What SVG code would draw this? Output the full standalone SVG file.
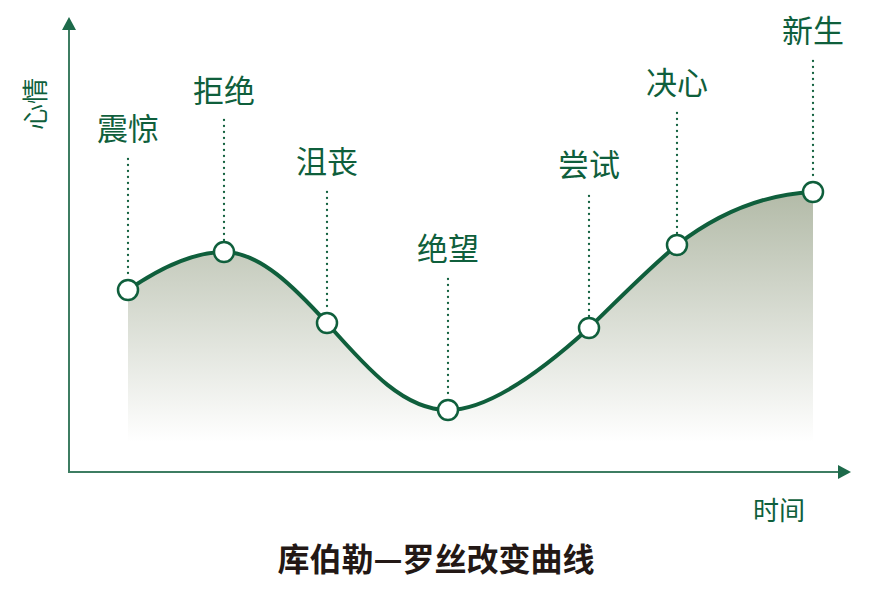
<svg xmlns="http://www.w3.org/2000/svg" width="872" height="589" viewBox="0 0 872 589">
<style>
.lbl{font-family:"Noto Sans CJK SC","Noto Sans",sans-serif;font-size:31px;fill:#0f5f3c;text-anchor:middle}
.ax{font-family:"Noto Sans CJK SC","Noto Sans",sans-serif;font-size:26px;fill:#0f5f3c;text-anchor:middle}
.title{font-family:"Noto Sans CJK SC","Noto Sans",sans-serif;font-size:32px;font-weight:bold;fill:#231815;text-anchor:middle}
.dot{stroke:#0f5f3c;stroke-width:2.3;stroke-dasharray:0 6;stroke-linecap:round;fill:none}
.pt{fill:#fff;stroke:#0f5f3c;stroke-width:2.5}
.axis{stroke:#3d7d62;stroke-width:2;fill:none}
</style>
<defs>
<linearGradient id="g" gradientUnits="userSpaceOnUse" x1="0" y1="190" x2="0" y2="442">
<stop offset="0" stop-color="#b2baa7"/>
<stop offset="1" stop-color="#ffffff"/>
</linearGradient>
</defs>
<path d="M128,290 C160,268 195,252 224,252 C260,252 295,288 327,323 C370,372 405,410 448,410 C490,410 545,368 589,328 C620,298 645,272 677,245 C725,208 770,194 813,192 L813,442 L128,442 Z" fill="url(#g)"/>
<g id="axes">
<line class="axis" x1="69" y1="473" x2="69" y2="28"/>
<polygon points="69,17 62,30 76,30" fill="#1d6a4a"/>
<line class="axis" x1="68" y1="472" x2="840" y2="472"/>
<polygon points="851,472 838,465 838,479" fill="#1d6a4a"/>
<text class="ax" transform="translate(45,104) rotate(-90)">心情</text>
<text class="ax" x="779" y="520">时间</text>
</g>
<g id="connectors">
<line class="dot" x1="128" y1="159" x2="128" y2="279"/>
<line class="dot" x1="224" y1="120" x2="224" y2="241"/>
<line class="dot" x1="327" y1="192" x2="327" y2="312"/>
<line class="dot" x1="448" y1="279" x2="448" y2="399"/>
<line class="dot" x1="589" y1="196" x2="589" y2="317"/>
<line class="dot" x1="677" y1="113" x2="677" y2="234"/>
<line class="dot" x1="813" y1="61" x2="813" y2="181"/>
<path d="M128,290 C160,268 195,252 224,252 C260,252 295,288 327,323 C370,372 405,410 448,410 C490,410 545,368 589,328 C620,298 645,272 677,245 C725,208 770,194 813,192" fill="none" stroke="#0f5f3c" stroke-width="4"/>
</g>
<g id="n1"><circle class="pt" cx="128" cy="290" r="10"/><text class="lbl" x="128" y="140">震惊</text></g>
<g id="n2"><circle class="pt" cx="224" cy="252" r="10"/><text class="lbl" x="224" y="102">拒绝</text></g>
<g id="n3"><circle class="pt" cx="327" cy="323" r="10"/><text class="lbl" x="327" y="173">沮丧</text></g>
<g id="n4"><circle class="pt" cx="448" cy="410" r="10"/><text class="lbl" x="448" y="260">绝望</text></g>
<g id="n5"><circle class="pt" cx="589" cy="328" r="10"/><text class="lbl" x="589" y="176">尝试</text></g>
<g id="n6"><circle class="pt" cx="677" cy="245" r="10"/><text class="lbl" x="677" y="94">决心</text></g>
<g id="n7"><circle class="pt" cx="813" cy="192" r="10"/><text class="lbl" x="813" y="42">新生</text></g>
<text class="title" x="436" y="571">库伯勒—罗丝改变曲线</text>
</svg>
